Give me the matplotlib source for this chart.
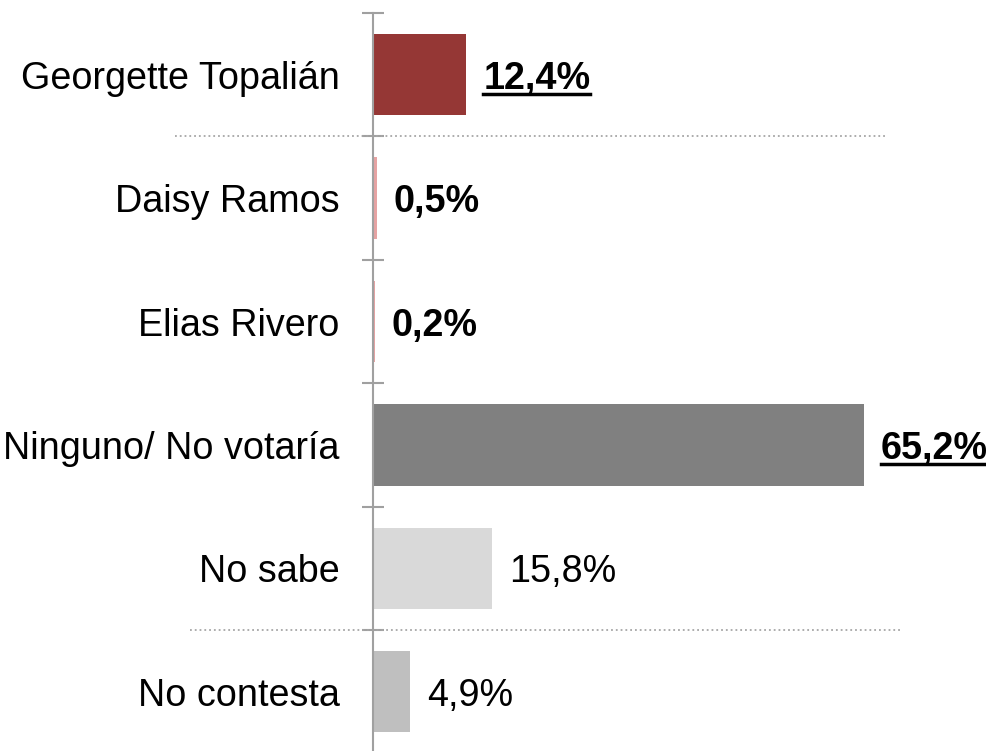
import matplotlib
matplotlib.use('Agg')
import matplotlib.pyplot as plt
from matplotlib.lines import Line2D
import numpy as np

plt.rcParams['font.family'] = ['Liberation Sans', 'DejaVu Sans']

# datos
categorias = ['Georgette Topalián', 'Daisy Ramos', 'Elias Rivero',
              'Ninguno/ No votaría', 'No sabe', 'No contesta']
valores = [12.4, 0.5, 0.2, 65.2, 15.8, 4.9]
etiquetas = ['12,4%', '0,5%', '0,2%', '65,2%', '15,8%', '4,9%']
colores = ['#953735', '#E6A3A3', '#E6A3A3', '#808080', '#D9D9D9', '#BFBFBF']
negrita = [True, True, True, True, False, False]
subrayado = [True, False, False, True, False, False]

fig = plt.figure(figsize=(9.87, 7.51), dpi=100)
ax = fig.add_axes([373 / 987, -2.4 / 751, 602 / 987, 740.4 / 751])

y = np.arange(len(categorias))
ax.barh(y, valores, height=0.66, color=colores, zorder=2)
ax.set_xlim(0, 80)
ax.set_ylim(len(categorias) - 0.5, -0.5)

ax.set_yticks(y)
ax.set_yticklabels(categorias, fontsize=27.2, va='center_baseline')
ax.set_yticks(np.arange(-0.5, len(categorias)), minor=True)
ax.tick_params(axis='y', which='major', length=0, pad=24)
ax.tick_params(axis='y', which='minor', direction='inout', length=16,
               width=1.5, color='#A0A0A0')
ax.set_xticks([])
for s in ['top', 'right', 'bottom']:
    ax.spines[s].set_visible(False)
ax.spines['left'].set_color('#A0A0A0')
ax.spines['left'].set_linewidth(1.5)

# lineas punteadas de separacion
ax.plot([-26.3, 68], [0.5, 0.5], ls=':', color='#A6A6A6', lw=1.3, clip_on=False)
ax.plot([-24.3, 70], [4.5, 4.5], ls=':', color='#A6A6A6', lw=1.3, clip_on=False)

textos = []
for i, (v, t, b) in enumerate(zip(valores, etiquetas, negrita)):
    txt = ax.annotate(t, (v, i), xytext=(12.2, 0), textcoords='offset points',
                      va='center_baseline', ha='left', fontsize=27.2,
                      fontweight='bold' if b else 'normal')
    textos.append(txt)

fig.canvas.draw()
r = fig.canvas.get_renderer()
for txt, u in zip(textos, subrayado):
    if not u:
        continue
    bb = txt.get_window_extent(r)
    yline = (bb.y0 + 3) / fig.bbox.height
    fig.add_artist(Line2D([bb.x0 / fig.bbox.width, bb.x1 / fig.bbox.width],
                          [yline, yline], color='black', lw=2.5))

fig.savefig('out.png', dpi=100)
